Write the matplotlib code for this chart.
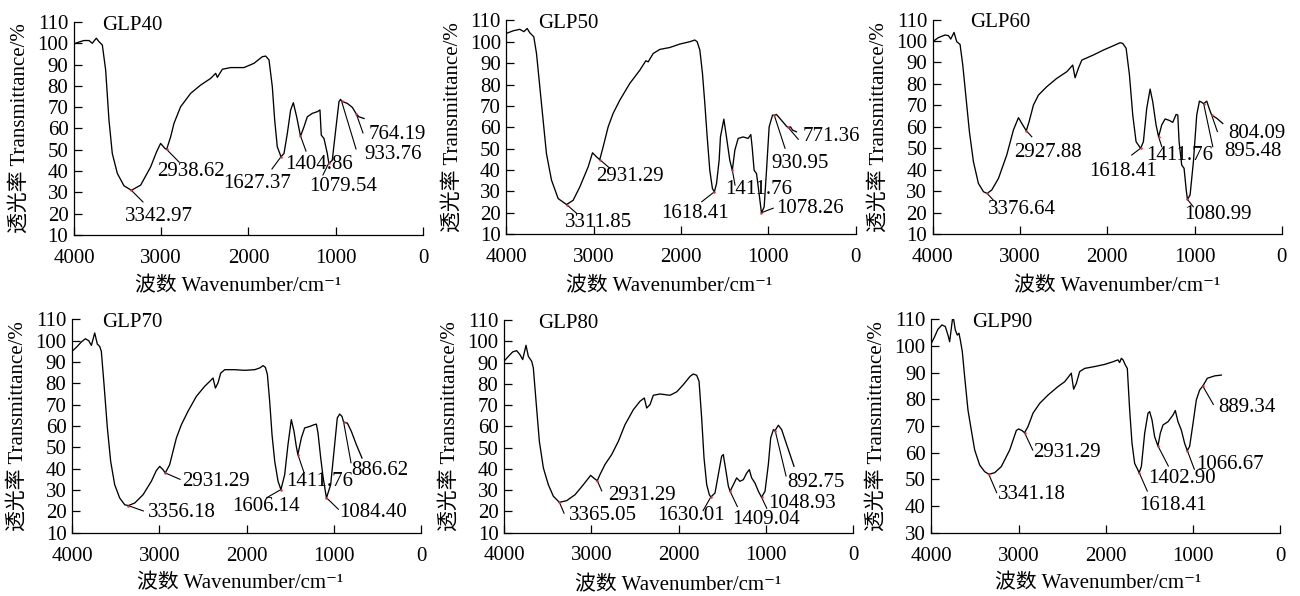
import numpy as np
import matplotlib
matplotlib.use("Agg")
import matplotlib.pyplot as plt

plt.rcParams['font.family'] = ['Liberation Serif', 'Noto Sans CJK SC', 'DejaVu Sans']

# ---------------- spectra: wavenumber (cm-1) / transmittance (%) ----------------
wn_glp40 = [4000, 3943, 3885, 3828, 3790, 3744, 3714, 3675, 3637, 3599, 3561, 3503, 3427, 3342,
            3236, 3121, 3053, 3007, 2957, 2938, 2892, 2854, 2778, 2663, 2548, 2434, 2376, 2357,
            2300, 2205, 2052, 1937, 1842, 1803, 1765, 1727, 1700, 1670, 1627, 1593, 1555, 1517,
            1486, 1448, 1404, 1364, 1326, 1269, 1211, 1181, 1166, 1135, 1097, 1079, 1040, 1001,
            963, 945, 933, 868, 810, 764, 734, 676]
t_glp40 = [99.7, 100.6, 101.3, 101.3, 100.0, 102.4, 100.8, 99.2, 87.5, 64.0, 48.3, 38.9, 33.1, 31.0,
           33.4, 42.0, 49.1, 53.0, 50.6, 50.2, 56.1, 62.4, 70.2, 76.5, 80.4, 83.5, 85.9, 84.0,
           87.8, 88.6, 88.6, 90.6, 93.7, 94.0, 92.2, 79.6, 64.0, 51.4, 46.7, 48.3, 57.7, 68.7,
           72.1, 65.5, 56.4, 60.8, 65.5, 67.1, 67.9, 68.7, 56.9, 55.3, 48.3, 43.6, 45.1, 59.2,
           72.6, 73.7, 72.8, 71.8, 69.9, 66.8, 65.5, 64.7]

wn_glp50 = [4000, 3924, 3847, 3801, 3763, 3733, 3687, 3656, 3618, 3580, 3542, 3484, 3408, 3312,
            3236, 3160, 3064, 3014, 2969, 2931, 2892, 2835, 2778, 2701, 2587, 2472, 2403, 2376,
            2319, 2243, 2128, 2014, 1899, 1842, 1815, 1784, 1754, 1727, 1700, 1670, 1640, 1618,
            1593, 1563, 1548, 1509, 1479, 1441, 1412, 1383, 1345, 1288, 1231, 1200, 1185, 1162,
            1135, 1105, 1078, 1047, 1020, 990, 951, 931, 906, 849, 791, 771, 745, 722, 677]
t_glp50 = [103.9, 105.1, 105.8, 104.7, 106.2, 104.2, 102.3, 94.5, 78.9, 63.3, 47.7, 35.3, 26.7, 23.9,
           25.9, 32.1, 41.5, 48.1, 46.2, 44.9, 50.9, 60.2, 66.5, 72.7, 80.5, 86.7, 91.1, 90.6,
           94.5, 96.4, 97.3, 98.9, 100.0, 100.8, 100.0, 96.1, 85.2, 71.1, 55.5, 39.9, 31.4, 29.8,
           33.7, 44.6, 55.5, 63.8, 55.5, 44.6, 39.9, 49.3, 54.8, 55.5, 54.8, 56.6, 50.9, 39.9,
           38.4, 29.0, 20.0, 22.8, 39.9, 60.2, 65.7, 65.6, 66.0, 63.3, 60.5, 59.9, 60.2, 58.7, 57.9]

wn_glp60 = [4000, 3935, 3859, 3820, 3794, 3756, 3725, 3687, 3656, 3618, 3580, 3534, 3477, 3419,
            3377, 3324, 3247, 3152, 3076, 3018, 2969, 2928, 2896, 2846, 2789, 2694, 2579, 2464,
            2396, 2369, 2331, 2292, 2159, 2044, 1930, 1853, 1823, 1784, 1746, 1708, 1670, 1618,
            1586, 1548, 1509, 1479, 1441, 1412, 1376, 1337, 1288, 1250, 1211, 1192, 1177, 1147,
            1120, 1095, 1081, 1051, 1013, 975, 944, 920, 895, 860, 830, 804, 745, 677]
t_glp60 = [99.7, 101.6, 102.8, 102.5, 100.9, 104.0, 99.7, 98.4, 88.8, 73.3, 57.8, 43.8, 33.7, 29.8,
           29.0, 30.6, 36.0, 46.9, 58.5, 64.3, 60.9, 58.2, 62.4, 70.2, 74.8, 78.7, 82.6, 85.7,
           88.8, 82.9, 87.3, 91.1, 93.5, 95.8, 97.8, 99.2, 98.9, 96.6, 84.2, 65.5, 53.1, 50.0,
           53.1, 68.6, 77.6, 71.7, 60.9, 55.4, 60.9, 63.7, 63.0, 62.1, 65.8, 65.5, 53.1, 42.2,
           40.7, 30.5, 26.2, 28.3, 43.8, 65.5, 72.0, 71.5, 70.8, 72.0, 68.3, 65.5, 64.0, 61.6]

wn_glp70 = [4000, 3950, 3893, 3847, 3809, 3778, 3740, 3710, 3683, 3664, 3633, 3595, 3557, 3511,
            3454, 3396, 3356, 3282, 3186, 3091, 3034, 2995, 2957, 2931, 2881, 2843, 2804, 2747,
            2671, 2575, 2480, 2422, 2384, 2357, 2327, 2296, 2250, 2136, 2021, 1907, 1849, 1811,
            1784, 1761, 1735, 1708, 1677, 1639, 1606, 1563, 1525, 1487, 1456, 1430, 1412, 1372,
            1334, 1276, 1227, 1200, 1181, 1150, 1124, 1097, 1084, 1036, 998, 960, 933, 906, 887,
            845, 799, 742, 677]
t_glp70 = [95.0, 96.9, 99.4, 100.9, 100.0, 97.8, 103.6, 98.4, 97.3, 95.0, 79.4, 59.1, 43.4, 32.5,
           26.3, 23.1, 22.7, 23.9, 27.8, 34.1, 39.1, 41.1, 39.5, 38.0, 41.9, 48.1, 54.4, 60.6,
           66.9, 73.9, 78.6, 80.9, 82.5, 77.8, 80.2, 84.8, 86.4, 86.4, 86.1, 86.4, 87.2, 88.3,
           87.5, 84.1, 71.6, 55.9, 43.4, 34.1, 30.2, 37.2, 51.3, 63.0, 57.5, 50.5, 46.6, 54.4,
           59.1, 59.8, 60.6, 60.9, 56.7, 45.0, 36.4, 29.4, 26.3, 32.5, 48.1, 63.8, 65.6, 64.5, 61.7,
           61.4, 57.5, 51.3, 45.0]

wn_glp80 = [4000, 3950, 3901, 3855, 3817, 3786, 3748, 3721, 3683, 3664, 3633, 3595, 3549, 3492,
            3435, 3365, 3282, 3186, 3091, 3007, 2965, 2931, 2900, 2843, 2766, 2690, 2613, 2518,
            2441, 2392, 2365, 2327, 2289, 2212, 2098, 2021, 1945, 1868, 1830, 1792, 1765, 1735,
            1708, 1677, 1647, 1630, 1582, 1544, 1506, 1487, 1456, 1429, 1409, 1372, 1334, 1296,
            1257, 1219, 1189, 1162, 1124, 1085, 1049, 1009, 971, 944, 913, 893, 856, 818, 761, 677]
t_glp80 = [90.6, 92.9, 95.0, 95.6, 93.7, 91.4, 98.1, 92.9, 90.6, 87.5, 71.8, 52.9, 40.4, 32.5,
           27.1, 24.2, 25.0, 27.8, 32.5, 36.9, 35.4, 34.4, 37.3, 42.0, 46.7, 52.9, 60.8, 67.8,
           71.8, 73.3, 68.6, 70.2, 74.6, 75.2, 74.6, 76.2, 79.6, 83.5, 84.6, 84.0, 81.2, 63.9,
           45.1, 32.5, 27.8, 26.7, 28.6, 37.3, 45.9, 46.7, 38.8, 31.8, 29.4, 32.5, 35.7, 34.1,
           34.9, 38.0, 39.6, 35.7, 33.3, 29.4, 26.6, 29.4, 42.0, 54.5, 58.4, 58.0, 60.5, 58.4,
           51.4, 41.2]

wn_glp90 = [4000, 3962, 3924, 3878, 3840, 3809, 3790, 3752, 3725, 3702, 3683, 3668, 3645, 3618,
            3580, 3542, 3503, 3446, 3389, 3341, 3274, 3198, 3102, 3026, 2999, 2961, 2931, 2892,
            2835, 2758, 2663, 2548, 2472, 2396, 2369, 2338, 2300, 2243, 2128, 2014, 1918, 1861,
            1842, 1822, 1803, 1777, 1754, 1727, 1700, 1670, 1618, 1593, 1555, 1517, 1498, 1471,
            1441, 1403, 1376, 1345, 1288, 1231, 1204, 1173, 1135, 1097, 1067, 1040, 1001, 963,
            925, 889, 837, 753, 677]
t_glp90 = [101.0, 103.5, 106.3, 107.9, 107.3, 104.1, 101.6, 111.6, 106.0, 104.1, 104.8, 102.3, 97.9,
           88.5, 76.0, 68.5, 61.0, 55.4, 52.9, 51.9, 52.5, 54.8, 61.0, 68.3, 68.9, 68.3, 67.5,
           69.8, 74.8, 78.5, 81.6, 84.8, 86.6, 89.8, 83.8, 86.0, 90.4, 91.6, 92.3, 93.1, 94.1,
           94.8, 93.8, 95.4, 94.8, 92.9, 91.6, 76.0, 63.5, 56.0, 52.5, 54.8, 67.3, 74.8, 75.4,
           72.3, 66.0, 62.5, 67.3, 70.4, 71.6, 74.1, 75.8, 71.6, 68.5, 63.5, 60.8, 62.3, 71.0,
           79.8, 83.5, 85.0, 87.9, 88.8, 89.1]

# labelled band positions (cm-1)
peaks_glp40 = [3342.97, 2938.62, 1627.37, 1404.86, 1079.54, 933.76, 764.19]
peaks_glp50 = [3311.85, 2931.29, 1618.41, 1411.76, 1078.26, 930.95, 771.36]
peaks_glp60 = [3376.64, 2927.88, 1618.41, 1411.76, 1080.99, 895.48, 804.09]
peaks_glp70 = [3356.18, 2931.29, 1606.14, 1411.76, 1084.40, 886.62]
peaks_glp80 = [3365.05, 2931.29, 1630.01, 1409.04, 1048.93, 892.75]
peaks_glp90 = [3341.18, 2931.29, 1618.41, 1402.90, 1066.67, 889.34]

sample_names = ['GLP40', 'GLP50', 'GLP60', 'GLP70', 'GLP80', 'GLP90']
y_ranges = [(10, 110), (10, 110), (10, 110), (10, 110), (10, 110), (30, 110)]
x_ticks = [4000, 3000, 2000, 1000, 0]

# ---------------- layout ----------------
axes_rects = [
    (0.0569, 0.6057, 0.2685, 0.3574),
    (0.3896, 0.6069, 0.2685, 0.3590),
    (0.7175, 0.6070, 0.2685, 0.3602),
    (0.0554, 0.1062, 0.2685, 0.3580),
    (0.3877, 0.1065, 0.2685, 0.3565),
    (0.7164, 0.1062, 0.2685, 0.3580),
]
# (leader end x, leader end y, label x, label y) for every labelled band
label_layout = [
    [(3209, 25.5, 3026, 18.9), (2797, 44.3, 2659, 40.0), (1731, 41.0, 1903, 34.0),
     (1341, 49.4, 1192, 43.3), (1147, 38.2, 917, 33.0), (768, 50.4, 344, 47.6),
     (688, 57.9, 298, 57.0)],
    [(3196, 19.8, 2948, 15.4), (2814, 40.8, 2585, 36.9), (1763, 25.2, 1840, 19.8),
     (1381, 33.0, 1114, 30.7), (943, 22.2, 522, 22.2), (808, 50.2, 637, 43.2),
     (656, 54.4, 273, 55.6)],
    [(3306, 25.9, 2980, 21.3), (2865, 55.4, 2675, 48.0), (1720, 46.9, 1816, 39.1),
     (1376, 50.8, 1166, 46.9), (1014, 22.8, 727, 19.4), (791, 50.8, 326, 48.4),
     (738, 57.8, 287, 57.0)],
    [(3183, 20.2, 2743, 19.4), (2762, 35.0, 2350, 33.8), (1769, 26.4, 1777, 22.2),
     (1341, 38.1, 1166, 34.2), (948, 21.0, 554, 19.4), (803, 42.8, 470, 39.2)],
    [(3312, 19.1, 2862, 17.8), (2880, 29.6, 2418, 27.5), (1719, 20.3, 1860, 17.8),
     (1326, 22.2, 998, 16.2), (989, 21.4, 588, 23.8), (768, 36.6, 424, 33.5)],
    [(3251, 45.0, 2849, 44.4), (2838, 61.0, 2449, 60.0), (1525, 45.6, 1227, 40.3),
     (1284, 55.0, 1131, 50.2), (986, 53.8, 577, 55.6), (768, 78.1, 386, 76.9)],
]
title_x = [0.08, 0.09, 0.107, 0.085, 0.098, 0.116]
# centre of the x-axis title, in axes fractions
xlabel_pos = [(0.471, -0.243), (0.466, -0.245), (0.527, -0.245),
              (0.483, -0.24), (0.499, -0.25), (0.478, -0.24)]

spectra = [(wn_glp40, t_glp40, peaks_glp40), (wn_glp50, t_glp50, peaks_glp50),
           (wn_glp60, t_glp60, peaks_glp60), (wn_glp70, t_glp70, peaks_glp70),
           (wn_glp80, t_glp80, peaks_glp80), (wn_glp90, t_glp90, peaks_glp90)]

FS = 15
fig = plt.figure(figsize=(13, 5.96), dpi=100)

for i, (wn, tr, peaks) in enumerate(spectra):
    ax = fig.add_axes(axes_rects[i])
    wn = np.asarray(wn, float)
    tr = np.asarray(tr, float)
    ax.plot(wn, tr, color='black', lw=0.95, solid_joinstyle='round')

    # band markers, leader lines and labels
    for p, (lx, ly, tx, ty) in zip(peaks, label_layout[i]):
        py = np.interp(p, wn[::-1], tr[::-1])
        ax.plot([p, lx], [py, ly], color='black', lw=0.8)
        ax.plot([p], [py], 'o', color='#e0303a', ms=1.8, mec='none', zorder=5)
        ax.text(tx, ty, f"{p:.2f}", fontsize=FS, ha='center', va='center')

    lo, hi = y_ranges[i]
    ax.set_xlim(4000, 0)
    ax.set_ylim(lo, hi)
    ax.set_xticks(x_ticks)
    ax.set_yticks(np.arange(lo, hi + 1, 10))
    ax.spines['top'].set_visible(False)
    ax.spines['right'].set_visible(False)
    for s in ('left', 'bottom'):
        ax.spines[s].set_linewidth(0.9)
    ax.tick_params(axis='both', direction='in', length=6, width=0.9, labelsize=FS)
    ax.tick_params(axis='x', pad=10)
    ax.tick_params(axis='y', pad=4)

    ax.text(title_x[i], 0.985, sample_names[i], transform=ax.transAxes,
            fontsize=FS, ha='left', va='center')
    ax.set_xlabel('波数 Wavenumber/cm⁻¹', fontsize=FS)
    ax.xaxis.label.set_va('center')
    ax.xaxis.set_label_coords(*xlabel_pos[i])
    ax.set_ylabel('透光率 Transmittance/%', fontsize=FS)
    ax.yaxis.label.set_va('center')
    ax.yaxis.set_label_coords(-0.155, 0.5)

fig.savefig('out.png', dpi=100)
